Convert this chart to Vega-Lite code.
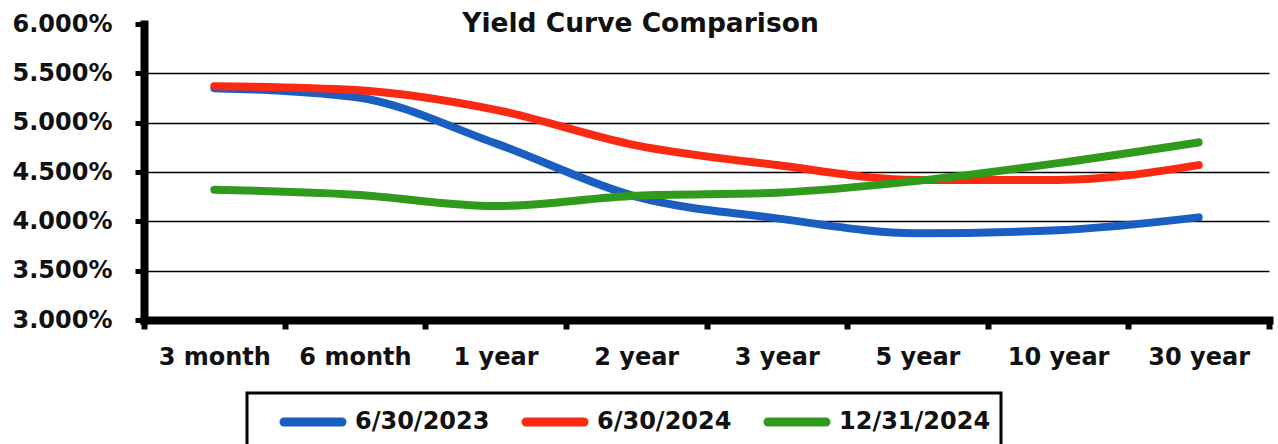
{
  "$schema": "https://vega.github.io/schema/vega-lite/v6.json",
  "autosize": {"type": "none"},
  "padding": {"left": 144, "top": 24, "right": 9, "bottom": 124},
  "width": 1125,
  "height": 296,
  "background": "white",
  "title": {
    "text": "Yield Curve Comparison",
    "anchor": "middle",
    "dx": -66,
    "offset": -46,
    "baseline": "alphabetic",
    "font": "DejaVu Sans",
    "fontSize": 26.5,
    "fontWeight": "bold",
    "color": "#111111"
  },
  "config": {
    "view": {"stroke": null},
    "axis": {
      "labelFont": "DejaVu Sans",
      "labelFontWeight": "bold",
      "labelFontSize": 24,
      "labelColor": "#111111",
      "domainColor": "#000000",
      "tickColor": "#000000",
      "title": null
    },
    "legend": {
      "labelFont": "DejaVu Sans",
      "labelFontWeight": "bold",
      "labelFontSize": 24,
      "labelColor": "#111111"
    }
  },
  "data": {
    "values": [
      {"term": "3 month", "date": "6/30/2023", "yield": 5.35},
      {"term": "6 month", "date": "6/30/2023", "yield": 5.26},
      {"term": "1 year", "date": "6/30/2023", "yield": 4.79},
      {"term": "2 year", "date": "6/30/2023", "yield": 4.25},
      {"term": "3 year", "date": "6/30/2023", "yield": 4.03},
      {"term": "5 year", "date": "6/30/2023", "yield": 3.88},
      {"term": "10 year", "date": "6/30/2023", "yield": 3.91},
      {"term": "30 year", "date": "6/30/2023", "yield": 4.04},
      {"term": "3 month", "date": "6/30/2024", "yield": 5.37},
      {"term": "6 month", "date": "6/30/2024", "yield": 5.33},
      {"term": "1 year", "date": "6/30/2024", "yield": 5.13},
      {"term": "2 year", "date": "6/30/2024", "yield": 4.77},
      {"term": "3 year", "date": "6/30/2024", "yield": 4.57},
      {"term": "5 year", "date": "6/30/2024", "yield": 4.42},
      {"term": "10 year", "date": "6/30/2024", "yield": 4.42},
      {"term": "30 year", "date": "6/30/2024", "yield": 4.57},
      {"term": "3 month", "date": "12/31/2024", "yield": 4.32},
      {"term": "6 month", "date": "12/31/2024", "yield": 4.27},
      {"term": "1 year", "date": "12/31/2024", "yield": 4.155},
      {"term": "2 year", "date": "12/31/2024", "yield": 4.26},
      {"term": "3 year", "date": "12/31/2024", "yield": 4.29},
      {"term": "5 year", "date": "12/31/2024", "yield": 4.41},
      {"term": "10 year", "date": "12/31/2024", "yield": 4.59},
      {"term": "30 year", "date": "12/31/2024", "yield": 4.8}
    ]
  },
  "mark": {
    "type": "line",
    "interpolate": "monotone",
    "strokeWidth": 8,
    "strokeCap": "round",
    "strokeJoin": "round"
  },
  "encoding": {
    "x": {
      "field": "term",
      "type": "ordinal",
      "sort": ["3 month", "6 month", "1 year", "2 year", "3 year", "5 year", "10 year", "30 year"],
      "scale": {"type": "band", "paddingInner": 0, "paddingOuter": 0},
      "axis": {
        "labelAngle": 0,
        "domainWidth": 8,
        "domainCap": "square",
        "tickBand": "extent",
        "tickSize": 9,
        "tickWidth": 6,
        "labelPadding": 16,
        "grid": false
      }
    },
    "y": {
      "field": "yield",
      "type": "quantitative",
      "scale": {"domain": [3, 6], "nice": false, "zero": false},
      "axis": {
        "values": [3, 3.5, 4, 4.5, 5, 5.5, 6],
        "labelExpr": "format(datum.value, '.3f') + '%'",
        "domainWidth": 8,
        "domainCap": "square",
        "tickSize": 9,
        "tickWidth": 5,
        "labelPadding": 23,
        "grid": true,
        "gridColor": "#000000",
        "gridWidth": 1.6,
        "gridOpacity": {"condition": {"test": "datum.value == 6", "value": 0}, "value": 1}
      }
    },
    "color": {
      "field": "date",
      "type": "nominal",
      "sort": ["6/30/2023", "6/30/2024", "12/31/2024"],
      "scale": {
        "domain": ["6/30/2023", "6/30/2024", "12/31/2024"],
        "range": ["#1b5ec2", "#fa2a12", "#2f9a1c"]
      },
      "legend": {
        "title": null,
        "orient": "none",
        "direction": "horizontal",
        "legendX": 103,
        "legendY": 369,
        "symbolType": "M-2,0H2",
        "symbolSize": 841,
        "symbolStrokeWidth": 9,
        "symbolOffset": 37,
        "labelOffset": 23,
        "columnPadding": 9,
        "padding": 10,
        "strokeColor": "#000000",
        "fillColor": "#ffffff",
        "encode": {
          "legend": {"update": {"strokeWidth": {"value": 3}}},
          "symbols": {"update": {"strokeCap": {"value": "round"}}}
        }
      }
    }
  }
}
